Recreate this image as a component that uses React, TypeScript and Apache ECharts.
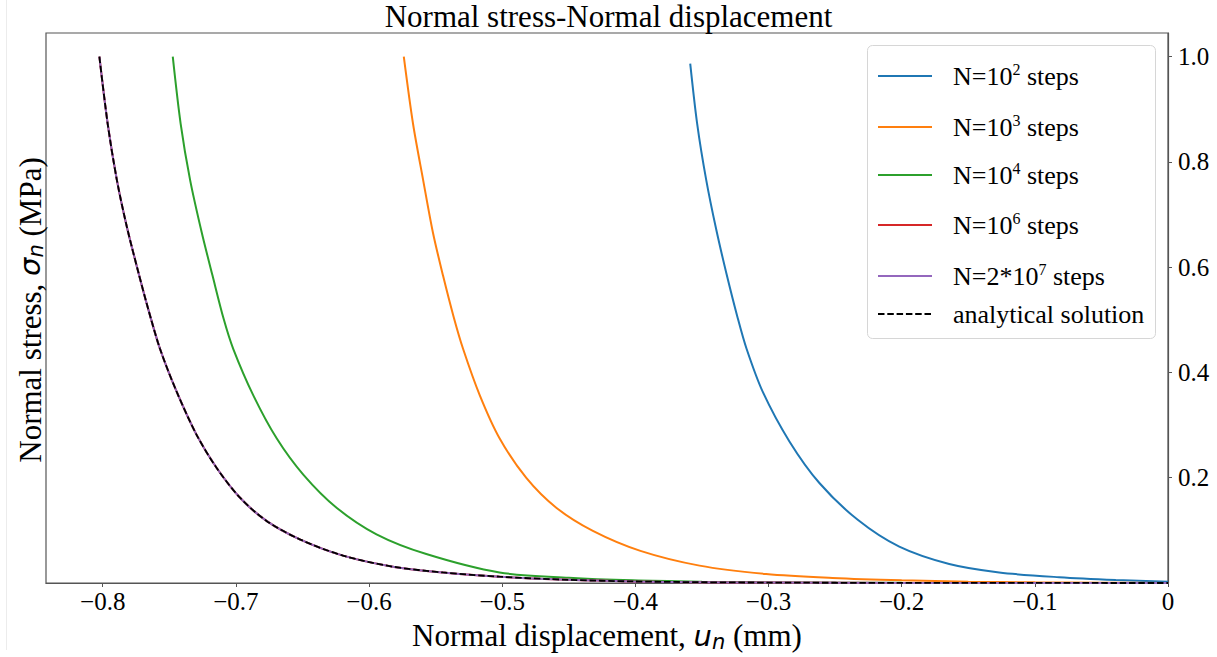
import React, { useEffect, useRef } from "react";
import * as echarts from "echarts";

// ---------- data ----------
const titleText = "Normal stress-Normal displacement";

const xTicks = [-0.8, -0.7, -0.6, -0.5, -0.4, -0.3, -0.2, -0.1, 0];
const yTicks = [0.2, 0.4, 0.6, 0.8, 1.0];
const X_MIN = -0.8426;
const X_MAX = 0;
const Y_MIN = 0;
const Y_MAX = 1.045;

const seriesNames = [
  "N=10^2 steps",
  "N=10^3 steps",
  "N=10^4 steps",
  "N=10^6 steps",
  "N=2*10^7 steps",
  "analytical solution",
];
const legendLabels = [
  "N=10{sup|2} steps",
  "N=10{sup|3} steps",
  "N=10{sup|4} steps",
  "N=10{sup|6} steps",
  "N=2*10{sup|7} steps",
  "analytical solution",
];
const seriesColors = ["#1f77b4", "#ff7f0e", "#2ca02c", "#d62728", "#9467bd", "#000000"];

// N = 10^2
const n2X = [-0.3588, -0.3536, -0.3468, -0.3393, -0.3318, -0.3233, -0.3165, -0.3043, -0.2843, -0.2618, -0.233, -0.2018, -0.1643, -0.1268, -0.0818, -0.0392, 0];
const n2Y = [0.987, 0.873, 0.766, 0.672, 0.59, 0.505, 0.445, 0.363, 0.269, 0.19, 0.12, 0.069, 0.036, 0.02, 0.011, 0.0057, 0.0025];

// N = 10^3
const n3X = [-0.5739, -0.567, -0.5594, -0.552, -0.5444, -0.5364, -0.5294, -0.5169, -0.502, -0.4819, -0.4594, -0.4319, -0.3962, -0.3518, -0.3018, -0.252, -0.2, -0.15, -0.1, -0.05, 0];
const n3Y = [1.0, 0.873, 0.766, 0.6655, 0.5836, 0.505, 0.445, 0.357, 0.275, 0.1996, 0.143, 0.099, 0.061, 0.033, 0.017, 0.0095, 0.005, 0.0025, 0.0012, 0.0005, 0];

// N = 10^4
const n4X = [-0.7474, -0.7415, -0.7344, -0.7256, -0.7175, -0.7092, -0.702, -0.687, -0.6694, -0.6494, -0.6244, -0.5944, -0.557, -0.502, -0.45, -0.402, -0.35, -0.3, -0.2, -0.1, 0];
const n4Y = [1.0, 0.873, 0.766, 0.6655, 0.5836, 0.502, 0.445, 0.357, 0.275, 0.206, 0.143, 0.0925, 0.055, 0.02, 0.01, 0.005, 0.0025, 0.0012, 0.0003, 0.0001, 0];

// N = 10^6
const n6X = [-0.8025, -0.7963, -0.7894, -0.782, -0.7732, -0.766, -0.757, -0.7444, -0.7294, -0.7144, -0.6969, -0.677, -0.652, -0.6195, -0.582, -0.5445, -0.502, -0.45, -0.402, -0.35, -0.3, -0.2, -0.1, 0];
const n6Y = [1.0, 0.873, 0.766, 0.678, 0.59, 0.522, 0.445, 0.363, 0.281, 0.2185, 0.162, 0.118, 0.083, 0.052, 0.031, 0.02, 0.012, 0.006, 0.003, 0.0015, 0.0008, 0.0002, 0.0001, 0];

// N = 2*10^7
const n7X = [-0.8025, -0.7963, -0.7894, -0.782, -0.7732, -0.766, -0.757, -0.7444, -0.7294, -0.7144, -0.6969, -0.677, -0.652, -0.6195, -0.582, -0.5445, -0.502, -0.45, -0.402, -0.35, -0.3, -0.2, -0.1, 0];
const n7Y = [1.0, 0.873, 0.766, 0.678, 0.59, 0.522, 0.445, 0.363, 0.281, 0.2185, 0.162, 0.118, 0.083, 0.052, 0.031, 0.02, 0.012, 0.006, 0.003, 0.0015, 0.0008, 0.0002, 0.0001, 0];

// analytical solution
const anX = [-0.8025, -0.7963, -0.7894, -0.782, -0.7732, -0.766, -0.757, -0.7444, -0.7294, -0.7144, -0.6969, -0.677, -0.652, -0.6195, -0.582, -0.5445, -0.502, -0.45, -0.402, -0.35, -0.3, -0.2, -0.1, 0];
const anY = [1.0, 0.873, 0.766, 0.678, 0.59, 0.522, 0.445, 0.363, 0.281, 0.2185, 0.162, 0.118, 0.083, 0.052, 0.031, 0.02, 0.012, 0.006, 0.003, 0.0015, 0.0008, 0.0002, 0.0001, 0];

const allX = [n2X, n3X, n4X, n6X, n7X, anX];
const allY = [n2Y, n3Y, n4Y, n6Y, n7Y, anY];

// ---------- styling ----------
const SERIF = "'Liberation Serif', 'Times New Roman', serif";
const SANS = "'DejaVu Sans', sans-serif";
const AXIS_COLOR = "#555";

const legendTops = [76, 127, 175, 225, 276, 314];

export default function App() {
  const ref = useRef<HTMLDivElement>(null);

  useEffect(() => {
    if (!ref.current) return;
    const chart = echarts.init(ref.current, undefined, { renderer: "svg" });

    const series = seriesNames.map((name, i) => ({
      name,
      type: "line",
      data: allX[i].map((x, k) => [x, allY[i][k]]),
      showSymbol: false,
      symbol: "none",
      smooth: 0.3,
      color: seriesColors[i],
      lineStyle: {
        color: seriesColors[i],
        width: i === 5 ? 1.8 : 2,
        type: i === 5 ? [6.5, 2.8] : "solid",
      },
      itemStyle: { color: seriesColors[i] },
      z: 2 + i,
      silent: true,
    }));

    const legends = seriesNames.map((name, i) => ({
      data: [name],
      left: 877,
      top: legendTops[i] - 15,
      orient: "vertical",
      itemWidth: 54,
      itemHeight: 4,
      padding: 0,
      z: 10,
      itemStyle: { opacity: 0 },
      formatter: () => legendLabels[i],
      textStyle: {
        fontFamily: SERIF,
        fontSize: 26,
        color: "#000",
        padding: [0, 0, 0, 16],
        lineHeight: 30,
        rich: {
          sup: {
            fontFamily: SERIF,
            fontSize: 16,
            verticalAlign: "top",
            lineHeight: 16,
            padding: [0, 0, 14, 0],
            color: "#000",
          },
        },
      },
    }));

    chart.setOption({
      animation: false,
      backgroundColor: "#ffffff",
      title: {
        text: titleText,
        left: "center",
        top: 1,
        padding: 0,
        textStyle: {
          fontFamily: SERIF,
          fontSize: 31,
          fontWeight: "normal",
          color: "#000",
        },
      },
      legend: legends,
      grid: {
        left: 46,
        right: 49,
        top: 33,
        bottom: 71,
        show: true,
        borderColor: AXIS_COLOR,
        borderWidth: 1.2,
        backgroundColor: "transparent",
        containLabel: false,
      },
      xAxis: {
        type: "value",
        min: X_MIN,
        max: X_MAX,
        axisLine: { show: true, onZero: false, lineStyle: { color: AXIS_COLOR, width: 1.2 } },
        axisTick: {
          show: true,
          customValues: xTicks,
          length: 4,
          lineStyle: { color: AXIS_COLOR, width: 1 },
        },
        axisLabel: {
          customValues: xTicks,
          formatter: (v: number) => (v === 0 ? "0" : "\u2212" + Math.abs(v).toFixed(1)),
          fontFamily: SERIF,
          fontSize: 25,
          color: "#000",
          margin: 6,
        },
        splitLine: { show: false },
        name: "Normal displacement, {it|u}{sub|n} (mm)",
        nameLocation: "middle",
        nameGap: 36,
        nameTextStyle: {
          fontFamily: SERIF,
          fontSize: 31,
          color: "#000",
          rich: {
            it: { fontFamily: SANS, fontStyle: "italic", fontSize: 29, color: "#000" },
            sub: {
              fontFamily: SANS,
              fontStyle: "italic",
              fontSize: 21,
              verticalAlign: "bottom",
              padding: [12, 0, 0, 0],
              color: "#000",
            },
          },
        },
      },
      yAxis: {
        type: "value",
        position: "right",
        min: Y_MIN,
        max: Y_MAX,
        axisLine: { show: true, lineStyle: { color: AXIS_COLOR, width: 1.2 } },
        axisTick: {
          show: true,
          customValues: yTicks,
          length: 4,
          lineStyle: { color: AXIS_COLOR, width: 1 },
        },
        axisLabel: {
          customValues: yTicks,
          formatter: (v: number) => v.toFixed(1),
          fontFamily: SERIF,
          fontSize: 25,
          color: "#000",
          margin: 10,
        },
        splitLine: { show: false },
      },
      graphic: [
        {
          type: "line",
          shape: { x1: 6.5, y1: 0, x2: 6.5, y2: 650 },
          style: { stroke: "#ececec", lineWidth: 1 },
          silent: true,
          z: 0,
        },
        {
          type: "rect",
          shape: { x: 867.5, y: 45.5, width: 288, height: 293, r: 5 },
          style: { fill: "rgba(255,255,255,0.8)", stroke: "#d6d6d6", lineWidth: 1 },
          silent: true,
          z: 8,
        },
        {
          type: "text",
          x: 30,
          y: 310,
          rotation: Math.PI / 2,
          silent: true,
          z: 10,
          style: {
            text: "Normal stress, {it|\u03C3}{sub|n} (MPa)",
            fontFamily: SERIF,
            fontSize: 31,
            fill: "#000",
            align: "center",
            verticalAlign: "middle",
            rich: {
              it: { fontFamily: SANS, fontStyle: "italic", fontSize: 29, fill: "#000" },
              sub: {
                fontFamily: SANS,
                fontStyle: "italic",
                fontSize: 21,
                verticalAlign: "bottom",
                padding: [12, 0, 0, 0],
                fill: "#000",
              },
            },
          },
        },
      ],
      series,
    });

    return () => {
      chart.dispose();
    };
  }, []);

  return (
    <div
      ref={ref}
      style={{ position: "fixed", left: 0, top: 0, width: 1217, height: 657, background: "#fff" }}
    />
  );
}
